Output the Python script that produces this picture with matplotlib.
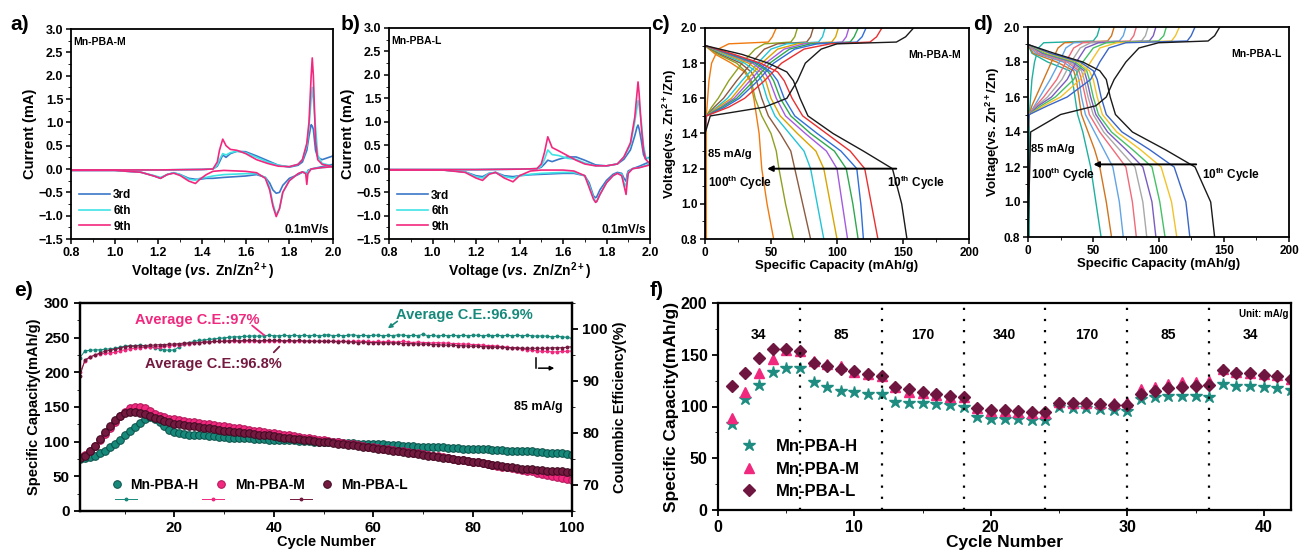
import matplotlib
matplotlib.use('Agg')
import matplotlib.pyplot as plt
from matplotlib.ticker import MultipleLocator

# ---------------- DATA ----------------
# Panel a (Mn-PBA-M CV)
A_V_UP = [0.8, 1.0, 1.2, 1.4, 1.45, 1.47, 1.48, 1.495, 1.51, 1.53, 1.56, 1.6, 1.65, 1.7, 1.75, 1.8, 1.84, 1.86, 1.88, 1.89, 1.9, 1.905, 1.91, 1.92, 1.93, 1.95, 2.0]
A_I9_UP = [-0.02, -0.02, -0.02, -0.01, 0.0, 0.15, 0.4, 0.64, 0.5, 0.42, 0.4, 0.33, 0.2, 0.12, 0.06, 0.05, 0.1, 0.2, 0.55, 1.0, 2.0, 2.38, 2.0, 0.6, 0.2, 0.1, 0.05]
A_I6_UP = [-0.02, -0.02, -0.02, -0.01, 0.0, 0.08, 0.2, 0.33, 0.3, 0.35, 0.38, 0.35, 0.25, 0.15, 0.08, 0.05, 0.1, 0.2, 0.5, 0.9, 1.5, 1.75, 1.5, 0.9, 0.3, 0.12, 0.06]
A_I3_UP = [-0.02, -0.02, -0.02, -0.01, 0.0, 0.06, 0.15, 0.3, 0.25, 0.33, 0.38, 0.37, 0.28, 0.18, 0.08, 0.04, 0.08, 0.15, 0.4, 0.7, 0.95, 0.92, 0.85, 0.4, 0.25, 0.2, 0.28]
A_V_DN = [2.0, 1.95, 1.9, 1.885, 1.88, 1.875, 1.86, 1.84, 1.8, 1.77, 1.755, 1.74, 1.725, 1.71, 1.69, 1.65, 1.6, 1.5, 1.45, 1.42, 1.39, 1.37, 1.34, 1.3, 1.27, 1.24, 1.21, 1.18, 1.12, 1.0, 0.8]
A_I9_DN = [0.05, 0.03, 0.0, -0.1, -0.33, -0.1, -0.06, -0.1, -0.25, -0.5, -0.85, -1.02, -0.8, -0.45, -0.2, -0.08, -0.05, -0.03, -0.05, -0.12, -0.22, -0.31, -0.26, -0.14, -0.09, -0.12, -0.2, -0.15, -0.07, -0.03, -0.03]
A_I6_DN = [0.05, 0.03, 0.0, -0.05, -0.15, -0.08, -0.06, -0.1, -0.25, -0.5, -0.85, -0.98, -0.75, -0.4, -0.18, -0.1, -0.1, -0.12, -0.15, -0.18, -0.2, -0.24, -0.22, -0.12, -0.08, -0.12, -0.18, -0.14, -0.07, -0.03, -0.03]
A_I3_DN = [0.1, 0.05, 0.0, -0.03, -0.1, -0.08, -0.07, -0.12, -0.2, -0.35, -0.5, -0.52, -0.45, -0.3, -0.18, -0.12, -0.15, -0.18, -0.2, -0.2, -0.22, -0.22, -0.2, -0.12, -0.08, -0.12, -0.2, -0.15, -0.07, -0.03, -0.03]

# Panel b (Mn-PBA-L CV)
B_V_UP = [0.8, 1.0, 1.2, 1.4, 1.48, 1.5, 1.515, 1.53, 1.55, 1.58, 1.62, 1.66, 1.7, 1.75, 1.8, 1.85, 1.88, 1.91, 1.93, 1.94, 1.945, 1.95, 1.96, 1.97, 1.98, 2.0]
B_I9_UP = [-0.02, -0.02, -0.02, -0.01, 0.0, 0.1, 0.35, 0.68, 0.45, 0.38, 0.28, 0.18, 0.1, 0.06, 0.06, 0.1, 0.25, 0.55, 1.1, 1.6, 1.85, 1.6, 0.9, 0.4, 0.2, 0.1]
B_I6_UP = [-0.02, -0.02, -0.02, -0.01, 0.0, 0.05, 0.2, 0.4, 0.3, 0.28, 0.22, 0.2, 0.12, 0.06, 0.06, 0.1, 0.25, 0.5, 1.0, 1.3, 1.45, 1.35, 1.0, 0.5, 0.25, 0.2]
B_I3_UP = [-0.02, -0.02, -0.02, -0.01, 0.0, 0.03, 0.1, 0.18, 0.15, 0.2, 0.25, 0.25, 0.18, 0.08, 0.06, 0.1, 0.2, 0.4, 0.7, 0.88, 0.93, 0.85, 0.6, 0.3, 0.2, 0.25]
B_V_DN = [2.0, 1.95, 1.92, 1.9, 1.895, 1.89, 1.88, 1.87, 1.85, 1.83, 1.8, 1.77, 1.755, 1.75, 1.74, 1.72, 1.7, 1.65, 1.6, 1.5, 1.45, 1.4, 1.37, 1.33, 1.29, 1.26, 1.23, 1.2, 1.15, 1.05, 0.8]
B_I9_DN = [0.08, 0.02, 0.0, -0.1, -0.3, -0.55, -0.35, -0.15, -0.1, -0.15, -0.3, -0.55, -0.7, -0.72, -0.65, -0.4, -0.15, -0.05, -0.03, -0.03, -0.05, -0.15, -0.28, -0.2, -0.08, -0.12, -0.25, -0.2, -0.08, -0.03, -0.03]
B_I6_DN = [0.1, 0.02, 0.0, -0.08, -0.2, -0.38, -0.3, -0.12, -0.1, -0.15, -0.3, -0.55, -0.7, -0.7, -0.62, -0.35, -0.15, -0.08, -0.08, -0.1, -0.12, -0.15, -0.2, -0.17, -0.08, -0.1, -0.2, -0.17, -0.07, -0.03, -0.03]
B_I3_DN = [0.15, 0.05, 0.0, -0.05, -0.12, -0.27, -0.2, -0.1, -0.08, -0.12, -0.25, -0.45, -0.6, -0.62, -0.58, -0.3, -0.15, -0.1, -0.1, -0.12, -0.13, -0.15, -0.17, -0.15, -0.08, -0.1, -0.17, -0.15, -0.07, -0.03, -0.03]
CV_LABELS = ['3rd', '6th', '9th']

# Panel c (Mn-PBA-M GCD), curves from 10th (black) to 100th (orange)
C_DIS_V = [1.9, 1.85, 1.8, 1.75, 1.7, 1.6, 1.5, 1.4, 1.3, 1.2, 1.0, 0.8]
C_DIS_CAP = [
    [0, 28, 48, 62, 67, 72, 78, 97, 120, 142, 149, 153],
    [0, 22, 42, 55, 60, 66, 74, 92, 110, 121, 126, 131],
    [0, 20, 40, 50, 55, 60, 68, 85, 103, 115, 118, 120],
    [0, 19, 38, 48, 52, 57, 65, 80, 98, 107, 112, 116],
    [0, 18, 36, 45, 49, 54, 61, 76, 92, 100, 104, 108],
    [0, 16, 33, 42, 46, 50, 57, 70, 84, 90, 95, 100],
    [0, 14, 30, 39, 43, 47, 53, 64, 75, 80, 85, 90],
    [0, 12, 27, 35, 39, 43, 48, 57, 65, 68, 74, 80],
    [0, 10, 24, 31, 35, 38, 43, 50, 54, 56, 61, 67],
    [0, 8, 20, 30, 34, 37, 39, 41, 42, 43, 47, 52],
]
C_CHG_V = [0.8, 1.4, 1.5, 1.55, 1.6, 1.7, 1.8, 1.88, 1.91, 1.92, 1.95, 2.0]
C_CHG_CAP = [
    [0, 0, 4, 45, 62, 70, 76, 88, 100, 145, 152, 158],
    [0, 0, 1, 18, 30, 45, 58, 75, 95, 125, 130, 134],
    [0, 0, 1, 15, 26, 40, 52, 68, 85, 115, 119, 122],
    [0, 0, 1, 13, 24, 37, 49, 64, 80, 110, 113, 116],
    [0, 0, 1, 12, 22, 34, 46, 60, 75, 104, 107, 109],
    [0, 0, 1, 10, 20, 31, 43, 55, 70, 96, 99, 101],
    [0, 0, 1, 9, 17, 28, 40, 50, 62, 86, 89, 91],
    [0, 0, 1, 7, 14, 24, 35, 45, 55, 77, 80, 82],
    [0, 0, 1, 5, 10, 18, 28, 38, 45, 65, 68, 70],
    [1, 1, 1, 1.5, 2, 3, 5, 10, 18, 48, 51, 54],
]
C_COLORS = ['#1a1a1a', '#e83030', '#2f6fd8', '#2ea84e', '#a45be0', '#d9a400', '#22c4d6', '#8c5a40', '#8fa020', '#f07a10']

# Panel d (Mn-PBA-L GCD)
D_DIS_V = [1.9, 1.85, 1.8, 1.75, 1.7, 1.6, 1.5, 1.4, 1.3, 1.2, 1.0, 0.8]
D_DIS_CAP = [
    [0, 20, 42, 55, 60, 63, 67, 80, 105, 128, 140, 143],
    [0, 17, 40, 50, 53, 56, 60, 72, 93, 112, 121, 124],
    [0, 15, 38, 47, 50, 53, 57, 68, 86, 102, 110, 114],
    [0, 13, 36, 45, 47, 50, 54, 64, 80, 95, 101, 105],
    [0, 11, 34, 43, 45, 48, 52, 61, 75, 88, 95, 98],
    [0, 10, 32, 41, 43, 46, 50, 58, 70, 82, 88, 91],
    [0, 8, 30, 39, 41, 44, 47, 55, 65, 75, 80, 83],
    [0, 6, 27, 37, 39, 41, 44, 51, 58, 65, 70, 73],
    [0, 4, 22, 35, 37, 39, 41, 46, 51, 55, 60, 64],
    [0, 3, 15, 32, 34, 36, 38, 42, 45, 48, 52, 56],
]
D_CHG_V = [0.8, 1.4, 1.5, 1.55, 1.6, 1.7, 1.8, 1.88, 1.91, 1.92, 1.95, 2.0]
D_CHG_CAP = [
    [0, 2, 25, 52, 60, 66, 75, 85, 100, 138, 143, 147],
    [0, 0, 1, 15, 30, 48, 55, 62, 75, 122, 125, 128],
    [0, 0, 1, 12, 25, 40, 48, 55, 68, 110, 113, 116],
    [0, 0, 1, 10, 21, 35, 42, 50, 60, 100, 104, 106],
    [0, 0, 1, 8, 18, 30, 37, 44, 54, 93, 96, 98],
    [0, 0, 1, 7, 15, 26, 33, 40, 48, 87, 90, 92],
    [0, 0, 1, 6, 12, 22, 29, 35, 42, 78, 81, 83],
    [0, 0, 1, 5, 9, 17, 24, 29, 35, 70, 73, 75],
    [0, 0, 1, 3, 6, 12, 18, 23, 28, 61, 64, 66],
    [1, 1, 1, 1.5, 2, 3, 5, 8, 12, 50, 53, 55],
]
D_COLORS = ['#1a1a1a', '#3a66c8', '#f2c22a', '#45c065', '#7a5cc0', '#a8a8a8', '#f06a78', '#62a4e4', '#d0741e', '#1fb0a0']

# Panel e (cycling at 85 mA/g)
E_CYCLE = list(range(1, 101))
E_CAP_H = [75, 76, 78, 80, 83, 87, 92, 97, 103, 109,
           115, 121, 127, 132, 135, 133, 128, 122, 117, 114,
           112, 111, 110, 110, 109, 109, 108, 108, 107, 107,
           106, 106, 105, 105, 105, 104, 104, 104, 103, 103,
           103, 102, 102, 102, 101, 101, 101, 100, 100, 100,
           99, 99, 99, 98, 98, 98, 97, 97, 97, 96,
           96, 96, 95, 95, 95, 94, 94, 94, 93, 93,
           93, 92, 92, 92, 91, 91, 91, 90, 90, 90,
           89, 89, 89, 88, 88, 88, 87, 87, 87, 86,
           86, 86, 85, 85, 84, 84, 83, 83, 82, 81]
E_CAP_M = [78, 81, 87, 94, 102, 111, 120, 129, 137, 143,
           148, 150, 150, 148, 144, 140, 137, 135, 133, 132,
           131, 130, 129, 128, 127, 126, 125, 124, 123, 122,
           121, 120, 119, 118, 117, 116, 115, 114, 113, 112,
           111, 110, 109, 108, 107, 106, 105, 104, 103, 102,
           101, 100, 99, 98, 97, 96, 95, 94, 93, 92,
           91, 90, 89, 88, 87, 86, 85, 84, 83, 82,
           81, 80, 79, 78, 77, 75, 74, 73, 72, 71,
           70, 69, 68, 66, 65, 64, 63, 62, 61, 59,
           58, 57, 55, 54, 52, 51, 49, 48, 46, 44]
E_CAP_L = [76, 80, 86, 94, 104, 114, 123, 131, 137, 141,
           143, 143, 142, 140, 137, 134, 132, 130, 128, 126,
           125, 124, 123, 122, 121, 120, 119, 118, 117, 116,
           115, 114, 114, 113, 112, 111, 110, 109, 109, 108,
           107, 106, 105, 104, 104, 103, 102, 101, 100, 99,
           99, 98, 97, 96, 95, 95, 94, 93, 92, 91,
           90, 89, 88, 87, 86, 85, 84, 83, 82, 81,
           80, 79, 78, 77, 76, 75, 74, 73, 72, 71,
           70, 69, 68, 67, 66, 65, 64, 63, 62, 61,
           61, 60, 59, 59, 58, 58, 57, 57, 56, 56]
E_CE_H = [94.5, 95.8, 95.9, 96.0, 96.0, 96.1, 96.2, 96.3, 96.5, 96.7,
          96.8, 96.8, 96.9, 96.8, 96.6, 96.4, 96.2, 96.0, 95.9, 96.0,
          96.6, 97.1, 97.4, 97.6, 97.8, 97.9, 98.0, 98.1, 98.2, 98.3,
          98.4, 98.5, 98.5, 98.6, 98.6, 98.7, 98.6, 98.7, 98.8, 98.7,
          98.7, 98.8, 98.7, 98.8, 98.7, 98.8, 98.7, 98.8, 98.7, 98.8,
          98.9, 98.7, 98.8, 98.7, 98.8, 98.9, 98.7, 98.8, 98.7, 98.8,
          98.8, 98.7, 98.8, 98.7, 98.9, 98.8, 98.7, 98.8, 98.7, 99.0,
          98.7, 98.8, 98.6, 98.8, 98.7, 98.8, 98.7, 98.8, 98.7, 98.8,
          98.8, 98.7, 98.8, 98.7, 98.8, 98.7, 98.8, 98.7, 98.8, 98.7,
          98.8, 98.7, 98.6, 98.7, 98.6, 98.5, 98.6, 98.5, 98.4, 98.2]
E_CE_M = [91.7, 93.8, 94.6, 95.0, 95.2, 95.3, 95.4, 95.5, 95.8, 96.0,
          96.2, 96.3, 96.4, 96.5, 96.5, 96.6, 96.6, 96.7, 96.8, 96.9,
          97.0, 97.1, 97.2, 97.3, 97.4, 97.5, 97.5, 97.6, 97.6, 97.6,
          97.7, 97.6, 97.7, 97.6, 97.7, 97.7, 97.6, 97.7, 97.7, 97.6,
          97.7, 97.7, 97.6, 97.7, 97.7, 97.6, 97.7, 97.7, 97.6, 97.7,
          97.6, 97.7, 97.6, 97.7, 97.6, 97.6, 97.7, 97.6, 97.6, 97.5,
          97.6, 97.5, 97.6, 97.5, 97.5, 97.6, 97.5, 97.4, 97.5, 97.4,
          97.4, 97.3, 97.4, 97.3, 97.3, 97.2, 97.2, 97.1, 97.1, 97.0,
          97.0, 96.9, 96.8, 96.8, 96.7, 96.6, 96.5, 96.4, 96.3, 96.2,
          96.0, 95.9, 95.8, 95.7, 95.7, 95.6, 95.6, 95.7, 95.7, 95.8]
E_CE_L = [91.0, 94.1, 94.6, 95.0, 95.4, 95.7, 95.9, 96.1, 96.3, 96.6,
          96.7, 96.7, 96.8, 96.8, 96.9, 96.9, 97.0, 97.0, 97.1, 97.1,
          97.2, 97.3, 97.3, 97.4, 97.4, 97.5, 97.5, 97.6, 97.6, 97.7,
          97.7, 97.8, 97.7, 97.8, 97.8, 97.8, 97.7, 97.8, 97.8, 97.8,
          97.8, 97.7, 97.8, 97.7, 97.8, 97.7, 97.7, 97.6, 97.7, 97.6,
          97.6, 97.6, 97.5, 97.6, 97.5, 97.5, 97.4, 97.5, 97.4, 97.4,
          97.4, 97.3, 97.4, 97.3, 97.3, 97.2, 97.2, 97.2, 97.1, 97.1,
          97.1, 97.0, 97.0, 96.9, 96.9, 96.9, 96.8, 96.8, 96.7, 96.7,
          96.7, 96.6, 96.6, 96.5, 96.5, 96.5, 96.4, 96.4, 96.4, 96.3,
          96.3, 96.3, 96.3, 96.3, 96.3, 96.4, 96.4, 96.4, 96.5, 96.6]
SAMPLES = ['Mn-PBA-H', 'Mn-PBA-M', 'Mn-PBA-L']

# Panel f (rate performance)
F_CYCLE = list(range(1, 43))
F_CAP_H = [83, 107, 121, 133, 137, 137, 124, 119, 115, 114, 112, 112,
           104, 103, 103, 102, 101, 100, 90, 88, 88, 88, 87, 87,
           100, 99, 99, 98, 97, 96, 107, 109, 110, 110, 110, 109,
           122, 120, 120, 119, 118, 116]
F_CAP_M = [89, 114, 132, 146, 155, 154, 144, 141, 139, 133, 131, 129,
           119, 114, 113, 111, 109, 109, 99, 96, 96, 95, 94, 94,
           104, 103, 103, 103, 103, 104, 117, 119, 122, 124, 124, 125,
           136, 133, 132, 131, 130, 127]
F_CAP_L = [120, 132, 147, 156, 156, 154, 142, 139, 136, 134, 131, 129,
           119, 117, 114, 112, 110, 109, 99, 97, 97, 96, 95, 95,
           103, 103, 103, 102, 101, 101, 112, 115, 118, 119, 120, 121,
           135, 132, 132, 130, 129, 127]
F_BOUNDS = [0, 6, 12, 18, 24, 30, 36, 42]
F_RATES = ['34', '85', '170', '340', '170', '85', '34']

# ---------------- STYLE ----------------
plt.rcParams['font.family'] = ['Liberation Sans', 'DejaVu Sans']
plt.rcParams['font.weight'] = 'bold'
plt.rcParams['axes.labelweight'] = 'bold'
plt.rcParams['mathtext.fontset'] = 'custom'
plt.rcParams['mathtext.rm'] = 'Liberation Sans:bold'
plt.rcParams['mathtext.it'] = 'Liberation Sans:italic:bold'
plt.rcParams['mathtext.bf'] = 'Liberation Sans:bold'
plt.rcParams['axes.linewidth'] = 1.3
NARROW = ['Liberation Sans Narrow', 'Liberation Sans', 'DejaVu Sans']

W, H = 1301, 554
fig = plt.figure(figsize=(W / 100, H / 100), dpi=100)


def add_ax(l, t, r, b):
    return fig.add_axes([l / W, 1 - b / H, (r - l) / W, (b - t) / H])


CV_COLORS = ['#3b78c8', '#3fe3e6', '#f2287e']


def cv_panel(ax, vup, iups, vdn, idns, name):
    handles = []
    for iu, idn, col, lab in zip(iups, idns, CV_COLORS, CV_LABELS):
        ln, = ax.plot(vup, iu, color=col, lw=1.2, label=lab)
        ax.plot(vdn, idn, color=col, lw=1.2)
        handles.append(ln)
    ax.set_xlim(0.8, 2.0)
    ax.set_ylim(-1.5, 3.0)
    ax.xaxis.set_major_locator(MultipleLocator(0.2))
    ax.xaxis.set_minor_locator(MultipleLocator(0.1))
    ax.yaxis.set_major_locator(MultipleLocator(0.5))
    ax.yaxis.set_minor_locator(MultipleLocator(0.25))
    ax.tick_params(labelsize=9, width=1.1, length=3.5, pad=2)
    ax.tick_params(which='minor', length=2)
    ax.set_xlabel(r'Voltage ($\it{vs.}$ Zn/Zn$^{2+}$)', fontsize=10, labelpad=1)
    ax.set_ylabel('Current (mA)', fontsize=10.5, labelpad=1)
    ax.text(0.01, 0.94, name, transform=ax.transAxes, fontsize=7.5, fontweight='bold', va='center')
    ax.text(0.985, 0.045, '0.1mV/s', transform=ax.transAxes, fontsize=8.5, ha='right', va='center')
    ax.legend(handles=handles, loc='lower left', bbox_to_anchor=(-0.01, -0.02), frameon=False,
              handlelength=2.6, handletextpad=0.3, labelspacing=0.3,
              prop={'weight': 'bold', 'size': 8.5})


ax_a = add_ax(71, 29, 333, 239)
cv_panel(ax_a, A_V_UP, [A_I3_UP, A_I6_UP, A_I9_UP], A_V_DN, [A_I3_DN, A_I6_DN, A_I9_DN], 'Mn-PBA-M')
ax_b = add_ax(389, 28, 650, 239)
cv_panel(ax_b, B_V_UP, [B_I3_UP, B_I6_UP, B_I9_UP], B_V_DN, [B_I3_DN, B_I6_DN, B_I9_DN], 'Mn-PBA-L')


def gcd_panel(ax, dis_v, dis_caps, chg_v, chg_caps, colors, name, arrow_y, arrow_x0, arrow_x1, lab_y, lab10_x):
    for dc, cc, col in zip(dis_caps[::-1], chg_caps[::-1], colors[::-1]):
        ax.plot(cc, chg_v, color=col, lw=1.0)
        ax.plot(dc, dis_v, color=col, lw=1.0)
    ax.set_xlim(0, 200)
    ax.set_ylim(0.8, 2.0)
    ax.xaxis.set_major_locator(MultipleLocator(50))
    ax.xaxis.set_minor_locator(MultipleLocator(25))
    ax.yaxis.set_major_locator(MultipleLocator(0.2))
    ax.yaxis.set_minor_locator(MultipleLocator(0.1))
    ax.tick_params(labelsize=8.5, width=1.1, length=3.5, pad=2)
    ax.tick_params(which='minor', length=2)
    ax.set_xlabel('Specific Capacity (mAh/g)', fontsize=9.5, labelpad=1)
    ax.set_ylabel(r'Voltage(vs. Zn$^{2+}$/Zn)', fontsize=9.5, labelpad=1)
    ax.text(0.97, 0.87, name, transform=ax.transAxes, fontsize=7.5, ha='right', va='center')
    ax.text(2, arrow_y + 0.085, '85 mA/g', fontsize=8, va='center')
    ax.text(2, lab_y, r'100$^{\rm th}$ Cycle', fontsize=8.5, va='center')
    ax.text(lab10_x, lab_y, r'10$^{\rm th}$ Cycle', fontsize=8.5, va='center')
    ax.annotate('', xy=(arrow_x1, arrow_y), xytext=(arrow_x0, arrow_y),
                arrowprops=dict(arrowstyle='-|>', color='k', lw=1.4, mutation_scale=8))


ax_c = add_ax(705, 28, 969, 239)
gcd_panel(ax_c, C_DIS_V, C_DIS_CAP, C_CHG_V, C_CHG_CAP, C_COLORS, 'Mn-PBA-M', 1.2, 147, 45, 1.12, 138)
ax_d = add_ax(1028, 27, 1289, 237)
gcd_panel(ax_d, D_DIS_V, D_DIS_CAP, D_CHG_V, D_CHG_CAP, D_COLORS, 'Mn-PBA-L', 1.215, 131, 48, 1.155, 133)

# Panel e
E_COLORS = ['#17897b', '#f0287e', '#74193f']
E_EDGES = ['#0b4f47', '#b01558', '#3d0a20']
ax_e = add_ax(80, 303, 572, 511)
ax_e2 = ax_e.twinx()
cap_handles, ce_handles = [], []
for cap, ce, col, edg, lab in zip([E_CAP_H, E_CAP_M, E_CAP_L], [E_CE_H, E_CE_M, E_CE_L], E_COLORS, E_EDGES, SAMPLES):
    h, = ax_e.plot(E_CYCLE, cap, ls='none', marker='o', ms=5.5, mfc=col, mec=edg, mew=0.7, label=lab)
    l2, = ax_e2.plot(E_CYCLE, ce, color=col, lw=0.7, marker='o', ms=1.8, mec=col)
    cap_handles.append(h)
    ce_handles.append(l2)
ax_e.set_zorder(ax_e2.get_zorder() + 1)
ax_e.patch.set_visible(False)
ax_e.set_xlim(1, 100)
ax_e.set_ylim(0, 300)
ax_e2.set_ylim(65, 105)
ax_e.xaxis.set_major_locator(MultipleLocator(20))
ax_e.xaxis.set_minor_locator(MultipleLocator(10))
ax_e.yaxis.set_major_locator(MultipleLocator(50))
ax_e.yaxis.set_minor_locator(MultipleLocator(25))
ax_e2.yaxis.set_major_locator(MultipleLocator(10))
ax_e2.yaxis.set_minor_locator(MultipleLocator(5))
for a in (ax_e, ax_e2):
    a.tick_params(labelsize=11, width=1.3, length=4)
    a.tick_params(which='minor', length=2.5)
    for t in a.get_xticklabels() + a.get_yticklabels():
        t.set_family(NARROW)
    for s in a.spines.values():
        s.set_linewidth(1.6)
ax_e.set_xlabel('Cycle Number', fontsize=10.5, family=NARROW, labelpad=0)
ax_e.set_ylabel('Specific Capacity(mAh/g)', fontsize=10.5, family=NARROW, labelpad=2)
ax_e2.set_ylabel('Coulombic Efficiency(%)', fontsize=10.5, family=NARROW, labelpad=4)
ax_e.text(12, 276, 'Average C.E.:97%', color=E_COLORS[1], fontsize=10.5, family=NARROW, va='center')
ax_e.annotate('', xy=(38.5, 251), xytext=(35.2, 270),
              arrowprops=dict(arrowstyle='-', color=E_COLORS[1], lw=1.3))
ax_e.text(14, 212, 'Average C.E.:96.8%', color=E_COLORS[2], fontsize=10.5, family=NARROW, va='center')
ax_e.annotate('', xy=(41.5, 240), xytext=(39.6, 226),
              arrowprops=dict(arrowstyle='-', color=E_COLORS[2], lw=1.3))
ax_e.text(64.5, 283, 'Average C.E.:96.9%', color=E_COLORS[0], fontsize=10.5, family=NARROW, va='center')
ax_e.annotate('', xy=(62.5, 261), xytext=(65.3, 276),
              arrowprops=dict(arrowstyle='-|>', color=E_COLORS[0], lw=1.2, mutation_scale=6))
ax_e.text(88.3, 150, '85 mA/g', fontsize=9, family=NARROW, va='center')
ax_e.plot([92.7, 92.7], [221, 206], color='k', lw=1.1)
ax_e.annotate('', xy=(97, 206), xytext=(92.7, 206),
              arrowprops=dict(arrowstyle='-|>', color='k', lw=1.1, mutation_scale=6))
leg1 = ax_e.legend(handles=cap_handles, loc='lower left', bbox_to_anchor=(0.035, 0.03), ncol=3,
                   frameon=False, handlelength=1.0, handletextpad=0.5, columnspacing=1.1,
                   prop={'family': NARROW, 'weight': 'bold', 'size': 10})
ax_e.add_artist(leg1)
ax_e.legend(handles=ce_handles, labels=['', '', ''], loc='lower left', bbox_to_anchor=(0.045, -0.04), ncol=3,
            frameon=False, handlelength=1.6, handletextpad=0.0, columnspacing=4.7,
            prop={'family': NARROW, 'weight': 'bold', 'size': 10})
fig.text(14 / W, 1 - 290 / H, 'e)', fontsize=15, fontweight='bold', va='center')

# Panel f
ax_f = add_ax(718, 303, 1291, 510)
for xv in F_BOUNDS[1:-1]:
    ax_f.axvline(xv, color='k', lw=1.6, ls=(0, (1, 4)), zorder=3)
for x0, x1, r in zip(F_BOUNDS[:-1], F_BOUNDS[1:], F_RATES):
    ax_f.text((x0 + x1) / 2, 169, r, ha='center', va='center', fontsize=10, family=NARROW)
ax_f.text(0.995, 0.945, 'Unit: mA/g', transform=ax_f.transAxes, ha='right', va='center', fontsize=7, family=NARROW)
hF1, = ax_f.plot(F_CYCLE, F_CAP_H, ls='none', marker='*', ms=9, color='#1e8c80', label=SAMPLES[0])
hF2, = ax_f.plot(F_CYCLE, F_CAP_M, ls='none', marker='^', ms=7.5, color='#f0287e', label=SAMPLES[1])
hF3, = ax_f.plot(F_CYCLE, F_CAP_L, ls='none', marker='D', ms=6.5, color='#6e1640', label=SAMPLES[2])
ax_f.set_xlim(0, 42)
ax_f.set_ylim(0, 200)
ax_f.xaxis.set_major_locator(MultipleLocator(10))
ax_f.xaxis.set_minor_locator(MultipleLocator(5))
ax_f.yaxis.set_major_locator(MultipleLocator(50))
ax_f.yaxis.set_minor_locator(MultipleLocator(25))
ax_f.tick_params(labelsize=11.5, width=1.3, length=4)
ax_f.tick_params(which='minor', length=2.5)
for t in ax_f.get_xticklabels() + ax_f.get_yticklabels():
    t.set_family(NARROW)
for s in ax_f.spines.values():
    s.set_linewidth(1.6)
ax_f.set_xlabel('Cycle Number', fontsize=12.5, family=NARROW, labelpad=0)
ax_f.set_ylabel('Specific Capacity(mAh/g)', fontsize=12.5, family=NARROW, labelpad=1)
ax_f.legend(handles=[hF1, hF2, hF3], loc='lower left', bbox_to_anchor=(0.01, -0.02), frameon=False,
            handlelength=1.2, handletextpad=1.0, labelspacing=0.45,
            prop={'family': NARROW, 'weight': 'bold', 'size': 12})
fig.text(650 / W, 1 - 290 / H, 'f)', fontsize=15, fontweight='bold', va='center')

# Panel letters top row
for x, lab in [(10, 'a)'), (341, 'b)'), (651, 'c)'), (973, 'd)')]:
    fig.text(x / W, 1 - 24 / H, lab, fontsize=15, fontweight='bold', va='center')

fig.savefig('out.png', dpi=100)
